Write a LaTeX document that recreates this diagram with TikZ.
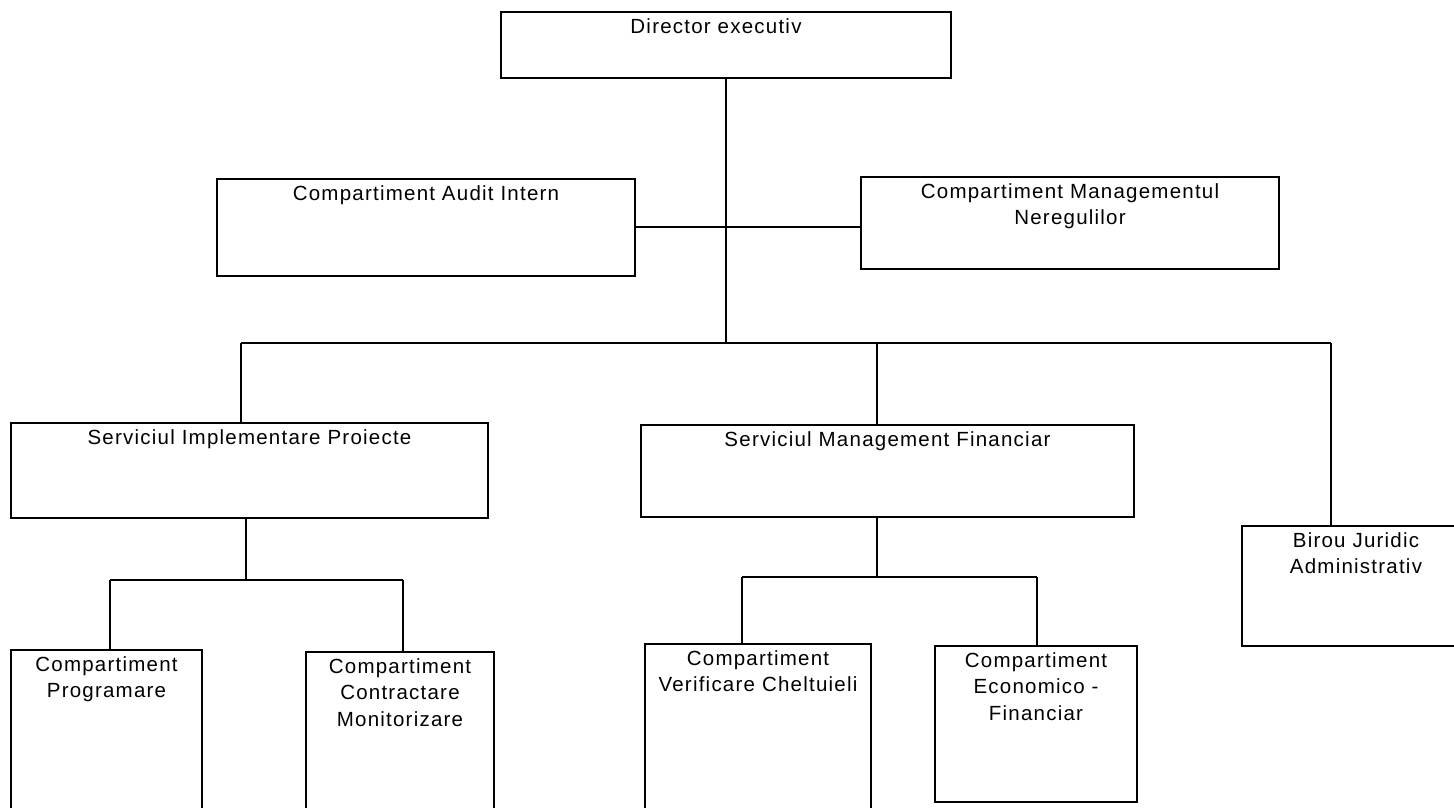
\documentclass[tikz,border=0pt]{standalone}
\usepackage{fontspec}
\setmainfont{Liberation Sans}[LetterSpace=6]
\newcommand\orgbox[7][0]{%
  \node[box,minimum width={(#5-#3)*1pt},minimum height={(#6-#4)*1pt}] (#2) at ({(#3+#5)/2},{(#4+#6)/2}) {};
  \node[lbl] (#2-t) at ([yshift=-7pt,xshift=#1pt]#2.north) {#7};}
\begin{document}
\begin{tikzpicture}[x=1pt,y=-1pt,
  box/.style={draw=black,line width=1.3pt,rectangle,inner sep=0pt},
  lbl/.style={anchor=north,align=center,inner sep=0pt,font=\fontsize{20.5}{26.5}\selectfont},
  conn/.style={draw=black,line width=1.3pt}]
\useasboundingbox (0,0) rectangle (1454,807);
\clip (0,0) rectangle (1454,807);

\orgbox[-10]{dir}{501}{12}{951}{78}{Director executiv}
\orgbox{audit}{217}{179}{635}{276}{Compartiment Audit Intern}
\orgbox{nereg}{861}{177}{1279}{269}{Compartiment Managementul\\Neregulilor}
\orgbox{sip}{11}{423}{488}{518}{Serviciul Implementare Proiecte}
\orgbox{smf}{641}{425}{1134}{517}{Serviciul Management Financiar}
\orgbox{birou}{1242}{526}{1470}{646}{Birou Juridic\\Administrativ}
\orgbox{prog}{11}{650}{202}{830}{Compartiment\\Programare}
\orgbox{contr}{306}{652}{494}{830}{Compartiment\\Contractare\\Monitorizare}
\orgbox{verif}{645}{644}{871}{830}{Compartiment\\Verificare Cheltuieli}
\orgbox{econ}{935}{646}{1137}{802}{Compartiment\\Economico -\\Financiar}

\coordinate (t0) at (726,343);
\coordinate (mid) at (726,227);
\coordinate (bL) at (241,343);
\coordinate (bM) at (877,343);
\coordinate (bR) at (1331,343);
\coordinate (sB) at (246,580);
\coordinate (sL) at (110,580);
\coordinate (sR) at (403,580);
\coordinate (fB) at (877,577);
\coordinate (fL) at (742,577);
\coordinate (fR) at (1037,577);

\draw[conn] (t0 |- dir.south) -- (t0);
\draw[conn] (audit.east |- mid) -- (nereg.west |- mid);
\draw[conn] (bL) -- (bR);
\draw[conn] (bL) -- (bL |- sip.north);
\draw[conn] (bM) -- (bM |- smf.north);
\draw[conn] (bR) -- (bR |- birou.north);
\draw[conn] (sB |- sip.south) -- (sB);
\draw[conn] (sL) -- (sR);
\draw[conn] (sL) -- (sL |- prog.north);
\draw[conn] (sR) -- (sR |- contr.north);
\draw[conn] (fB |- smf.south) -- (fB);
\draw[conn] (fL) -- (fR);
\draw[conn] (fL) -- (fL |- verif.north);
\draw[conn] (fR) -- (fR |- econ.north);
\end{tikzpicture}
\end{document}
